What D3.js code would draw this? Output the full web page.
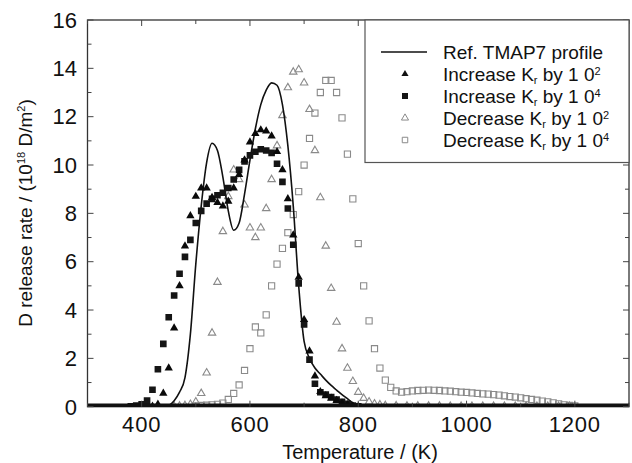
<!DOCTYPE html>
<html>
<head>
<meta charset="utf-8">
<script src="https://cdn.jsdelivr.net/npm/d3@7"></script>
<style>
  body { margin: 0; background: #fff; }
  text { font-family: "Liberation Sans", Arial, sans-serif; fill: #111; }
</style>
</head>
<body>
<div id="chart"></div>
<script>
// Ref. TMAP7 profile (solid line)
var refT = [300, 440, 450, 460, 470, 480, 490, 500, 510, 520, 530, 540, 550, 560, 570, 580, 590, 600, 610, 620, 630, 640, 650, 660, 670, 680, 690, 700, 710, 720, 730, 740, 750, 760, 770, 780, 790, 800, 820, 1300];
var refV = [0, 0, 0.05, 0.25, 0.6, 1.2, 3.0, 5.9, 8.3, 10.1, 10.9, 10.6, 9.5, 8.1, 7.3, 7.6, 8.8, 10.2, 11.5, 12.5, 13.1, 13.4, 13.3, 12.5, 10.8, 8.3, 5.0, 2.7, 2.0, 1.6, 1.35, 1.1, 0.88, 0.69, 0.5, 0.33, 0.15, 0.05, 0, 0];

// Increase Kr by 10^2 (filled triangles)
var inc2T = [420, 430, 440, 450, 460, 470, 480, 490, 500, 510, 520, 530, 540, 550, 560, 570, 580, 590, 600, 610, 620, 630, 640, 650, 660, 670, 680, 690, 700, 710, 720, 730, 740, 750, 760, 770, 780, 790, 800];
var inc2V = [0.02, 0.1, 0.55, 1.6, 3.25, 5.0, 6.65, 7.9, 8.7, 9.05, 9.05, 8.65, 8.45, 8.3, 8.5, 9.05, 9.6, 10.2, 10.95, 11.3, 11.45, 11.4, 11.2, 10.55, 9.8, 8.6, 7.1, 5.35, 3.6, 2.3, 1.27, 0.62, 0.45, 0.35, 0.25, 0.15, 0.08, 0.03, 0.01];

// Increase Kr by 10^4 (filled squares)
var inc4T = [380, 390, 400, 410, 420, 430, 440, 450, 460, 470, 480, 490, 500, 510, 520, 530, 540, 550, 560, 570, 580, 590, 600, 610, 620, 630, 640, 650, 660, 670, 680, 690, 700, 710, 720, 730, 740, 750, 760, 770, 780, 790, 800];
var inc4V = [0.02, 0.05, 0.1, 0.25, 0.7, 1.55, 2.6, 3.7, 4.6, 5.5, 6.2, 6.9, 7.6, 8.1, 8.4, 8.6, 8.75, 8.85, 9.05, 9.4, 9.8, 10.15, 10.4, 10.55, 10.65, 10.6, 10.5, 10.05, 9.3, 8.2, 6.7, 5.1, 3.4, 1.95, 0.95, 0.6, 0.5, 0.4, 0.3, 0.2, 0.12, 0.05, 0.02];

// Decrease Kr by 10^2 (open triangles)
var dec2T = [460, 470, 480, 490, 500, 510, 520, 530, 540, 550, 560, 570, 580, 590, 600, 610, 620, 630, 640, 650, 660, 670, 680, 690, 700, 710, 720, 730, 740, 750, 760, 770, 780, 790, 800, 810, 820, 830, 840, 850, 870, 890, 910, 930, 950, 970, 990, 1010, 1030, 1050, 1070, 1090, 1110, 1130, 1150, 1170, 1190];
var dec2V = [0.02, 0.03, 0.05, 0.1, 0.2, 0.55, 1.4, 3.05, 5.15, 7.25, 8.7, 9.8, 9.4, 8.35, 7.4, 7.0, 7.4, 8.2, 9.4, 10.8, 12.05, 13.2, 13.85, 13.95, 13.4, 12.3, 10.6, 8.65, 6.65, 4.9, 3.5, 2.4, 1.6, 1.05, 0.6, 0.35, 0.2, 0.12, 0.08, 0.05, 0.04, 0.03, 0.03, 0.03, 0.03, 0.02, 0.02, 0.02, 0.02, 0.02, 0.02, 0.02, 0.02, 0.02, 0.02, 0.02, 0.02];

// Decrease Kr by 10^4 (open squares)
var dec4T = [500, 510, 520, 530, 540, 550, 560, 570, 580, 590, 600, 610, 620, 630, 640, 650, 660, 670, 680, 690, 700, 710, 720, 730, 740, 750, 760, 770, 780, 790, 800, 810, 820, 830, 840, 850, 860, 870, 880, 890, 900, 910, 920, 930, 940, 950, 960, 970, 980, 990, 1000, 1010, 1020, 1030, 1040, 1050, 1060, 1070, 1080, 1090, 1100, 1110, 1120, 1130, 1140, 1150, 1160, 1170, 1180, 1190, 1200];
var dec4V = [0.03, 0.05, 0.06, 0.08, 0.1, 0.15, 0.3, 0.55, 0.9, 1.5, 2.4, 3.3, 3.05, 3.8, 5.0, 5.9, 6.55, 7.2, 7.95, 8.9, 10.0, 11.1, 12.15, 13.0, 13.5, 13.5, 13.0, 11.95, 10.45, 8.6, 6.75, 5.0, 3.55, 2.4, 1.6, 1.1, 0.8, 0.65, 0.6, 0.62, 0.65, 0.67, 0.68, 0.69, 0.68, 0.67, 0.65, 0.64, 0.62, 0.6, 0.59, 0.57, 0.55, 0.53, 0.52, 0.5, 0.48, 0.45, 0.42, 0.4, 0.37, 0.33, 0.3, 0.27, 0.23, 0.2, 0.16, 0.12, 0.08, 0.05, 0.03];

var xTicks = [400, 600, 800, 1000, 1200];
var yTicks = [0, 2, 4, 6, 8, 10, 12, 14, 16];
var legendLabels = ["Ref. TMAP7 profile", "Increase K", "Increase K", "Decrease K", "Decrease K"];
var legendPowers = ["", "2", "4", "2", "4"];

var width = 632, height = 463;
var margin = {left: 87.5, right: 3, top: 20, bottom: 56.3};

var svg = d3.select("#chart").append("svg")
    .attr("width", width)
    .attr("height", height);

var x = d3.scaleLinear().domain([300, 1300]).range([margin.left, width - margin.right]);
var y = d3.scaleLinear().domain([0, 16]).range([height - margin.bottom, margin.top]);

svg.append("clipPath").attr("id", "plotClip")
  .append("rect")
    .attr("x", x(300)).attr("y", y(16))
    .attr("width", x(1300) - x(300)).attr("height", y(0) - y(16));

var plot = svg.append("g").attr("clip-path", "url(#plotClip)");

function pairs(ts, vs) {
  return ts.map(function(t, i) { return [t, vs[i]]; });
}

var triSym = d3.symbol().type(d3.symbolTriangle);
var sqSym = d3.symbol().type(d3.symbolSquare);

// open markers first (grey), filled ones on top
plot.selectAll(".dec4").data(pairs(dec4T, dec4V)).enter().append("path")
    .attr("class", "dec4")
    .attr("d", sqSym.size(38))
    .attr("transform", function(d) { return "translate(" + x(d[0]) + "," + y(d[1]) + ")"; })
    .style("fill", "#fff").style("fill-opacity", 0)
    .style("stroke", "#8a8a8a").style("stroke-width", 1.1);

plot.selectAll(".dec2").data(pairs(dec2T, dec2V)).enter().append("path")
    .attr("class", "dec2")
    .attr("d", triSym.size(24))
    .attr("transform", function(d) { return "translate(" + x(d[0]) + "," + y(d[1]) + ")"; })
    .style("fill", "none")
    .style("stroke", "#8a8a8a").style("stroke-width", 1.1);

var line = d3.line()
    .x(function(d) { return x(d[0]); })
    .y(function(d) { return y(d[1]); })
    .curve(d3.curveMonotoneX);

plot.append("path")
    .datum(pairs(refT, refV))
    .attr("d", line)
    .style("fill", "none")
    .style("stroke", "#111")
    .style("stroke-width", 1.6);

plot.selectAll(".inc4").data(pairs(inc4T, inc4V)).enter().append("path")
    .attr("class", "inc4")
    .attr("d", sqSym.size(44))
    .attr("transform", function(d) { return "translate(" + x(d[0]) + "," + y(d[1]) + ")"; })
    .style("fill", "#151515");

plot.selectAll(".inc2").data(pairs(inc2T, inc2V)).enter().append("path")
    .attr("class", "inc2")
    .attr("d", triSym.size(30))
    .attr("transform", function(d) { return "translate(" + x(d[0]) + "," + y(d[1]) + ")"; })
    .style("fill", "#0a0a0a");

// frame
svg.append("rect")
    .attr("x", x(300)).attr("y", y(16))
    .attr("width", x(1300) - x(300)).attr("height", y(0) - y(16))
    .style("fill", "none").style("stroke", "#333").style("stroke-width", 1.3);

svg.append("line")
    .attr("x1", x(300)).attr("x2", x(1300))
    .attr("y1", y(0) - 1.5).attr("y2", y(0) - 1.5)
    .style("stroke", "#111").style("stroke-width", 3.5);

// ticks pointing inward on all four sides
var tickG = svg.append("g").style("stroke", "#444").style("stroke-width", 1);
d3.range(300, 1301, 100).forEach(function(t) {
  var len = (t % 200 === 0) ? 6 : 4;
  tickG.append("line").attr("x1", x(t)).attr("x2", x(t)).attr("y1", y(0)).attr("y2", y(0) - len);
  tickG.append("line").attr("x1", x(t)).attr("x2", x(t)).attr("y1", y(16)).attr("y2", y(16) + len);
});
d3.range(0, 17, 1).forEach(function(v) {
  var len = (v % 2 === 0) ? 6 : 4;
  tickG.append("line").attr("x1", x(300)).attr("x2", x(300) + len).attr("y1", y(v)).attr("y2", y(v));
  tickG.append("line").attr("x1", x(1300)).attr("x2", x(1300) - len).attr("y1", y(v)).attr("y2", y(v));
});

svg.selectAll(".xlab").data(xTicks).enter().append("text")
    .attr("class", "xlab")
    .attr("x", function(d) { return x(d); })
    .attr("y", 432)
    .attr("text-anchor", "middle")
    .style("font-size", "22px")
    .style("letter-spacing", "0.8px")
    .text(function(d) { return d; });

svg.selectAll(".ylab").data(yTicks).enter().append("text")
    .attr("class", "ylab")
    .attr("x", 77)
    .attr("y", function(d) { return y(d) + 7.8; })
    .attr("text-anchor", "end")
    .style("font-size", "22px")
    .text(function(d) { return d; });

svg.append("text")
    .attr("x", 360)
    .attr("y", 459)
    .attr("text-anchor", "middle")
    .style("font-size", "20px")
    .text("Temperature / (K)");

var yTitle = svg.append("text")
    .attr("transform", "translate(32,213) rotate(-90)")
    .attr("text-anchor", "middle")
    .style("font-size", "19px");
yTitle.append("tspan").text("D release rate / (10");
yTitle.append("tspan").attr("dy", -7).style("font-size", "11px").text("18");
yTitle.append("tspan").attr("dy", 7).text(" D/m");
yTitle.append("tspan").attr("dy", -7).style("font-size", "11px").text("2");
yTitle.append("tspan").attr("dy", 7).text(")");

// legend
var legend = svg.append("g");
legend.append("rect")
    .attr("x", 365).attr("y", y(16))
    .attr("width", x(1300) - 365).attr("height", 162.5 - y(16))
    .style("fill", "#fff").style("stroke", "#555").style("stroke-width", 1.2);

var rowY = [52, 74, 96, 118, 140];
legend.append("line")
    .attr("x1", 381).attr("x2", 427).attr("y1", rowY[0]).attr("y2", rowY[0])
    .style("stroke", "#111").style("stroke-width", 1.6);
legend.append("path").attr("d", triSym.size(22)).attr("transform", "translate(405," + rowY[1] + ")").style("fill", "#111");
legend.append("path").attr("d", sqSym.size(36)).attr("transform", "translate(405," + rowY[2] + ")").style("fill", "#151515");
legend.append("path").attr("d", triSym.size(22)).attr("transform", "translate(405," + rowY[3] + ")")
    .style("fill", "none").style("stroke", "#8a8a8a").style("stroke-width", 1);
legend.append("path").attr("d", sqSym.size(30)).attr("transform", "translate(405," + rowY[4] + ")")
    .style("fill", "none").style("stroke", "#8a8a8a").style("stroke-width", 1);

legendLabels.forEach(function(lbl, i) {
  var t = legend.append("text")
      .attr("x", 443)
      .attr("y", rowY[i] + 6.5)
      .style("font-size", "19px");
  t.append("tspan").text(lbl);
  if (legendPowers[i]) {
    t.append("tspan").attr("dy", 3).style("font-size", "11px").text("r");
    t.append("tspan").attr("dy", -3).text(" by 1 0");
    t.append("tspan").attr("dy", -6).style("font-size", "11px").text(legendPowers[i]);
  }
});
</script>
</body>
</html>
